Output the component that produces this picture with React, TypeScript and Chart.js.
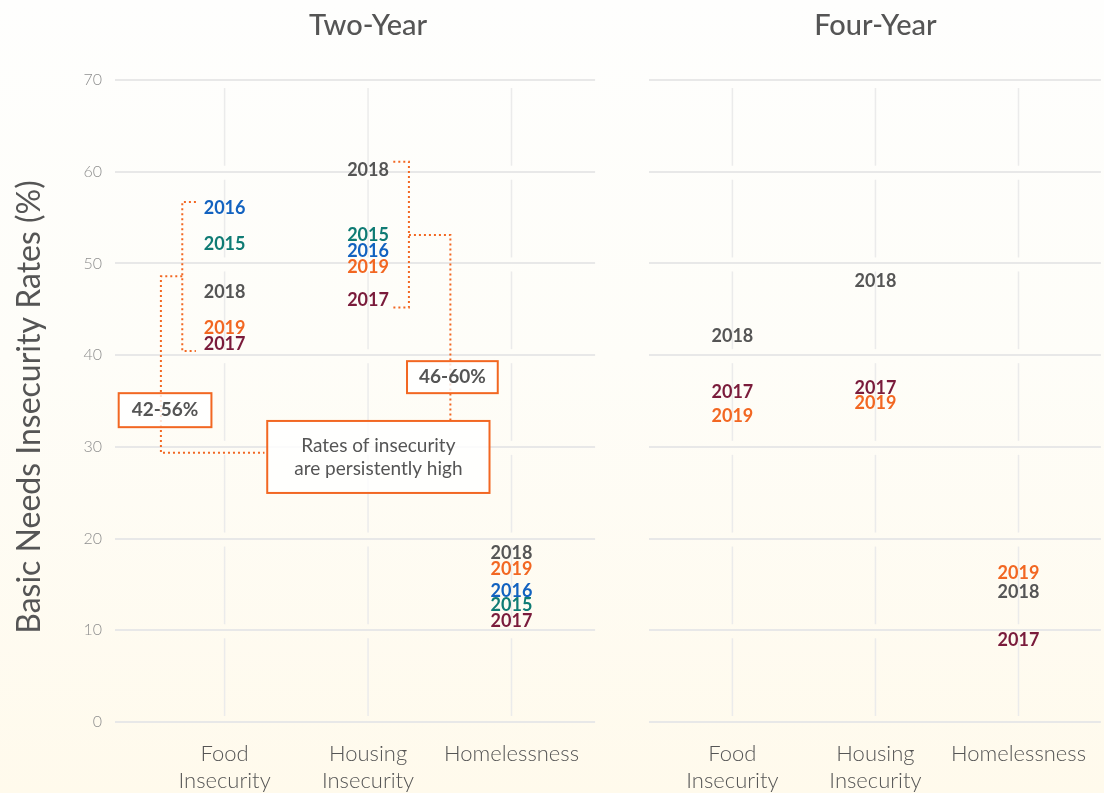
import React, { useEffect, useRef } from "react";
import { Chart, registerables } from "chart.js";

Chart.register(...registerables);

// ---------- data ----------
const categories = ["Food\nInsecurity", "Housing\nInsecurity", "Homelessness"];
const categoryPos = [1, 2, 3];
const yTickValues = [0, 10, 20, 30, 40, 50, 60, 70];

const panelTitles = ["Two-Year", "Four-Year"];
const yAxisTitle = "Basic Needs Insecurity Rates (%)";

// values per year: [Food Insecurity, Housing Insecurity, Homelessness]
const twoYear2015 = [52.1, 53.1, 12.7];
const twoYear2016 = [56.0, 51.3, 14.3];
const twoYear2017 = [41.2, 46.0, 11.0];
const twoYear2018 = [46.9, 60.2, 18.4];
const twoYear2019 = [42.9, 49.6, 16.7];

const fourYear2017 = [36.0, 36.4, 8.9];
const fourYear2018 = [42.1, 48.1, 14.2];
const fourYear2019 = [33.3, 34.8, 16.2];

const yearColors: Record<string, string> = {
  "2015": "#0f7b74",
  "2016": "#1262c0",
  "2017": "#7a1b3b",
  "2018": "#555555",
  "2019": "#f26722",
};

// annotation geometry in data units (x: category position, y: rate)
const bracketFood = [[0.8, 56.7], [0.705, 56.7], [0.705, 40.45], [0.8, 40.45]];
const leaderFood = [[0.705, 48.6], [0.556, 48.6], [0.556, 29.35], [1.278, 29.35]];
const bracketHousing = [[2.176, 61.1], [2.285, 61.1], [2.285, 45.2], [2.176, 45.2]];
const leaderHousing = [[2.285, 53.1], [2.574, 53.1], [2.574, 32.9]];
const boxFoodRange = { x: 0.585, y: 34.0, lines: ["42-56%"] };
const boxHousingRange = { x: 2.588, y: 37.6, lines: ["46-60%"] };
const boxNote = { x: 2.072, y: 28.9, lines: ["Rates of insecurity", "are persistently high"] };

const ORANGE = "#f26722";
const TEXT = "#555555";

type Series = { year: string; values: number[] };

const twoYearSeries: Series[] = [
  { year: "2015", values: twoYear2015 },
  { year: "2016", values: twoYear2016 },
  { year: "2017", values: twoYear2017 },
  { year: "2018", values: twoYear2018 },
  { year: "2019", values: twoYear2019 },
];
const fourYearSeries: Series[] = [
  { year: "2017", values: fourYear2017 },
  { year: "2018", values: fourYear2018 },
  { year: "2019", values: fourYear2019 },
];

type PanelProps = {
  title: string;
  series: Series[];
  left: number;
  width: number;
  xMin: number;
  xMax: number;
  showYAxis: boolean;
  annotate: boolean;
};

function Panel(props: PanelProps) {
  const ref = useRef<HTMLCanvasElement | null>(null);

  useEffect(() => {
    if (!ref.current) return;
    const { title, series, xMin, xMax, showYAxis, annotate } = props;

    const vGridPlugin = {
      id: "vgrid",
      beforeDatasetsDraw(chart: any) {
        const ctx = chart.ctx;
        const xs = chart.scales.x;
        const ys = chart.scales.y;
        ctx.save();
        ctx.strokeStyle = "#ebebeb";
        ctx.lineWidth = 1.5;
        categoryPos.forEach((c) => {
          const px = xs.getPixelForValue(c);
          for (let i = 0; i < yTickValues.length - 1; i++) {
            const yb = ys.getPixelForValue(yTickValues[i]);
            const yt = ys.getPixelForValue(yTickValues[i + 1]);
            ctx.beginPath();
            ctx.moveTo(px, yt + 8);
            ctx.lineTo(px, yb - 6);
            ctx.stroke();
          }
        });
        ctx.restore();
      },
    };

    const textPlugin = {
      id: "texts",
      afterDatasetsDraw(chart: any) {
        const ctx = chart.ctx;
        const xs = chart.scales.x;
        const ys = chart.scales.y;
        ctx.save();

        // panel title
        ctx.fillStyle = TEXT;
        ctx.font = "500 29px Lato";
        ctx.textAlign = "center";
        ctx.textBaseline = "middle";
        ctx.fillText(title, xs.getPixelForValue(2), 26);

        // y axis title
        if (showYAxis) {
          ctx.save();
          ctx.translate(30, 407);
          ctx.rotate(-Math.PI / 2);
          ctx.font = "400 32px Lato";
          ctx.fillStyle = TEXT;
          ctx.fillText(yAxisTitle, 0, 0);
          ctx.restore();
        }

        // annotations
        if (annotate) {
          const toPx = (p: number[]) => [xs.getPixelForValue(p[0]), ys.getPixelForValue(p[1])];
          const poly = (pts: number[][]) => {
            ctx.beginPath();
            pts.forEach((p, i) => {
              const [x, y] = toPx(p);
              if (i === 0) ctx.moveTo(x, y);
              else ctx.lineTo(x, y);
            });
            ctx.stroke();
          };
          ctx.save();
          ctx.strokeStyle = ORANGE;
          ctx.lineWidth = 2;
          ctx.setLineDash([2, 3]);
          [bracketFood, leaderFood, bracketHousing, leaderHousing].forEach(poly);
          ctx.restore();

          const box = (b: { x: number; y: number; lines: string[] }, font: string, lineH: number, padX: number, padY: number) => {
            ctx.save();
            ctx.font = font;
            const w = Math.max(...b.lines.map((l) => ctx.measureText(l).width)) + padX * 2;
            const h = b.lines.length * lineH + padY * 2;
            const [cx, cy] = toPx([b.x, b.y]);
            ctx.fillStyle = "rgba(255,255,255,0.82)";
            ctx.fillRect(cx - w / 2, cy - h / 2, w, h);
            ctx.strokeStyle = ORANGE;
            ctx.lineWidth = 2;
            ctx.strokeRect(cx - w / 2, cy - h / 2, w, h);
            ctx.fillStyle = TEXT;
            ctx.textAlign = "center";
            ctx.textBaseline = "middle";
            b.lines.forEach((l, i) => {
              ctx.fillText(l, cx, cy - h / 2 + padY + lineH * i + lineH / 2);
            });
            ctx.restore();
          };
          box(boxFoodRange, "700 19px Lato", 22, 13, 6);
          box(boxHousingRange, "700 19px Lato", 22, 12, 5);
          box(boxNote, "400 19px Lato", 23, 27, 13);
        }

        // data labels
        ctx.font = "700 18px Lato";
        ctx.textAlign = "center";
        ctx.textBaseline = "middle";
        chart.data.datasets.forEach((ds: any, i: number) => {
          const meta = chart.getDatasetMeta(i);
          ctx.fillStyle = ds.borderColor;
          meta.data.forEach((el: any) => {
            ctx.fillText(ds.label, el.x, el.y);
          });
        });
        ctx.restore();
      },
    };

    const chart = new Chart(ref.current, {
      type: "scatter",
      data: {
        datasets: series.map((s) => ({
          label: s.year,
          data: categoryPos.map((x, i) => ({ x, y: s.values[i] })),
          borderColor: yearColors[s.year],
          backgroundColor: yearColors[s.year],
          pointRadius: 0,
          pointHoverRadius: 0,
          showLine: false,
        })),
      },
      options: {
        animation: false,
        responsive: false,
        maintainAspectRatio: false,
        events: [],
        layout: { padding: { top: 80, left: 0, right: 0, bottom: 0 } },
        plugins: {
          legend: { display: false },
          tooltip: { enabled: false },
          title: { display: false },
        },
        scales: {
          x: {
            type: "linear",
            min: xMin,
            max: xMax,
            afterBuildTicks: (s: any) => {
              s.ticks = categoryPos.map((v) => ({ value: v }));
            },
            afterFit: (s: any) => {
              s.height = 71;
            },
            grid: { display: false, drawTicks: false },
            border: { display: false },
            ticks: {
              autoSkip: false,
              maxRotation: 0,
              minRotation: 0,
              padding: 18,
              color: TEXT,
              font: { family: "Lato", size: 22, weight: "300", lineHeight: 1.25 },
              callback: (_v: any, i: number) => categories[i].split("\n"),
            },
          },
          y: {
            type: "linear",
            min: 0,
            max: 70,
            afterBuildTicks: (s: any) => {
              s.ticks = yTickValues.map((v) => ({ value: v }));
            },
            afterFit: (s: any) => {
              s.width = showYAxis ? 115 : 0;
            },
            grid: { color: "#e8e8e8", lineWidth: 2, drawTicks: false },
            border: { display: false },
            ticks: {
              display: showYAxis,
              padding: 13,
              color: "#8f8f8f",
              font: { family: "Lato", size: 16, weight: "300" },
            },
          },
        },
      },
      plugins: [vGridPlugin, textPlugin],
    } as any);

    return () => chart.destroy();
  }, []);

  return (
    <canvas
      ref={ref}
      width={props.width}
      height={793}
      style={{ position: "absolute", left: props.left, top: 0, width: props.width, height: 793 }}
    />
  );
}

export default function App() {
  return (
    <div
      style={{
        position: "fixed",
        left: 0,
        top: 0,
        width: 1104,
        height: 793,
        overflow: "hidden",
        background: "linear-gradient(to bottom, #fefefd 0%, #fefdf8 45%, #fffaec 100%)",
      }}
    >
      <Panel
        title={panelTitles[0]}
        series={twoYearSeries}
        left={0}
        width={597}
        xMin={0.236}
        xMax={3.583}
        showYAxis={true}
        annotate={true}
      />
      <Panel
        title={panelTitles[1]}
        series={fourYearSeries}
        left={649}
        width={455}
        xMin={0.417}
        xMax={3.576}
        showYAxis={false}
        annotate={false}
      />
    </div>
  );
}
